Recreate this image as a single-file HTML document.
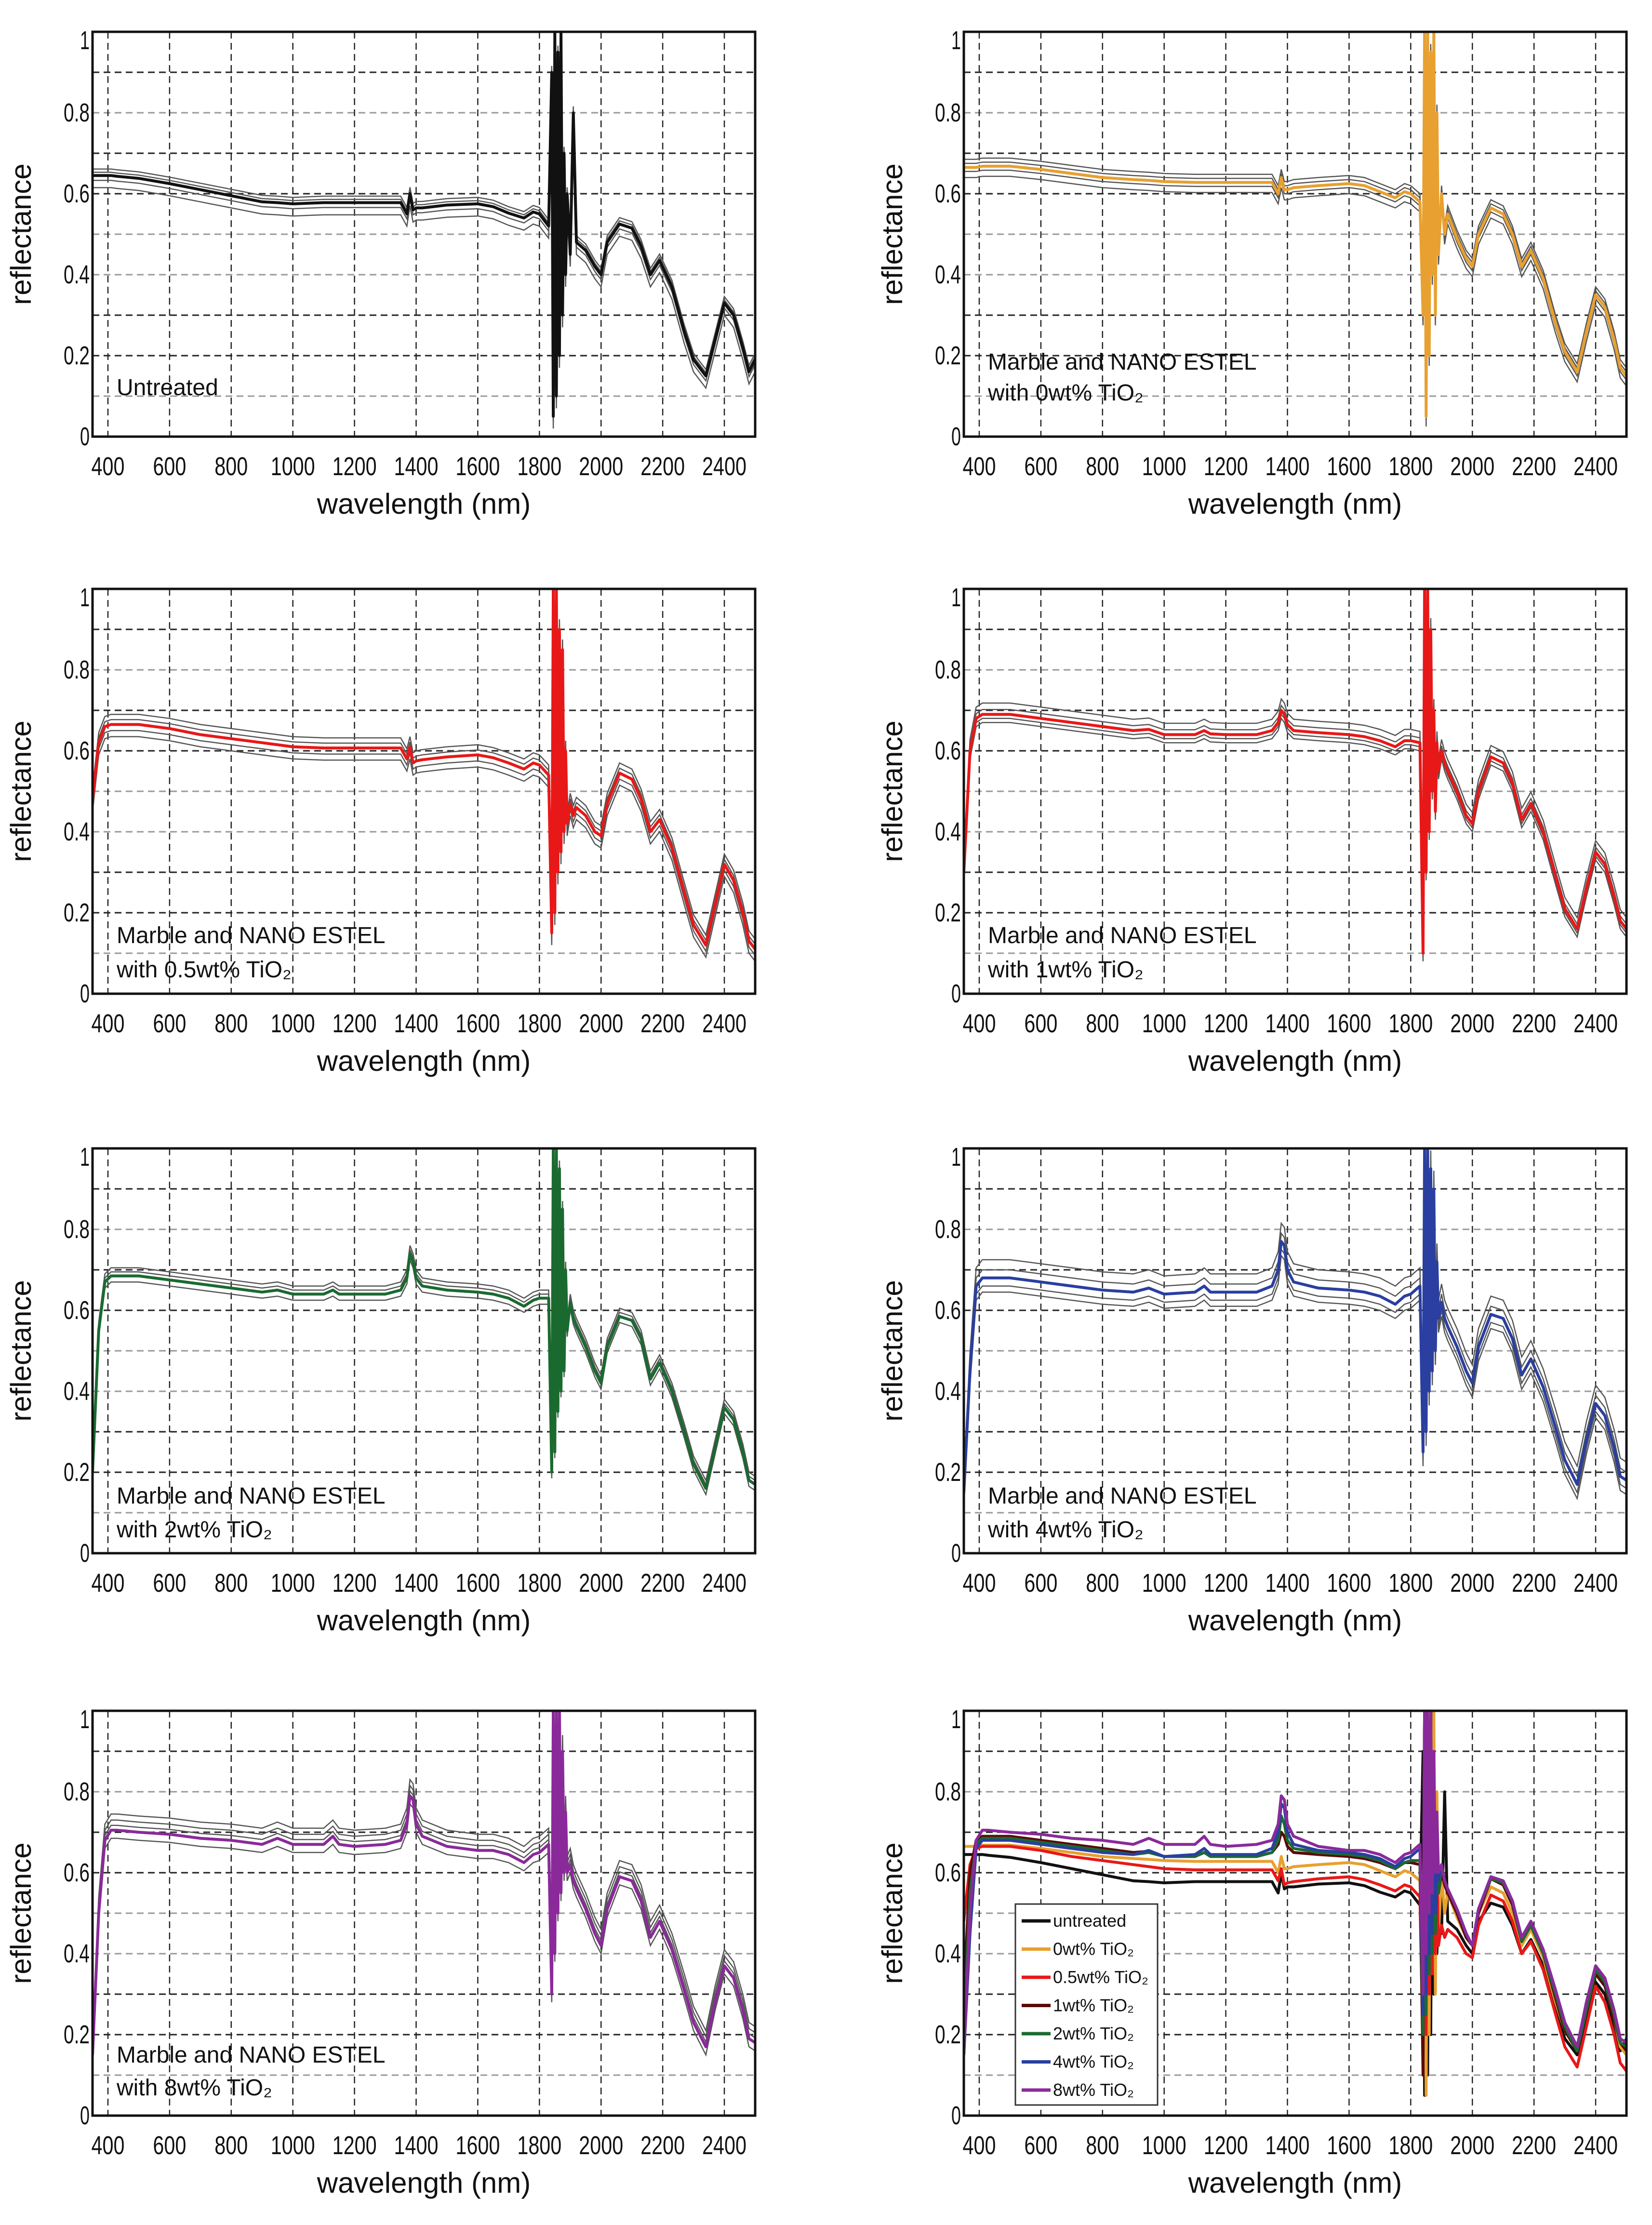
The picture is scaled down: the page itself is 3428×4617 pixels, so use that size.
<!DOCTYPE html>
<html><head><meta charset="utf-8">
<style>
html,body{margin:0;padding:0;background:#fff;}
svg{display:block;}
text{font-family:"Liberation Sans Narrow","Liberation Sans",sans-serif;fill:#111;}
.lab{font-family:"Liberation Sans",sans-serif;}
</style></head>
<body>
<svg id="fig" width="3428" height="4617" viewBox="0 0 3428 4617" xmlns="http://www.w3.org/2000/svg"></svg>
<script>
// ---- data ----
const wavelengths = [350,370,390,410,430,500,600,700,800,900,950,1000,1100,1130,1150,1200,1300,1350,1370,1380,1390,1400,1420,1500,1600,1650,1700,1750,1780,1800,1830,1840,1845,1850,1855,1860,1865,1870,1875,1880,1885,1890,1900,1910,1920,1950,1980,2000,2020,2060,2100,2130,2160,2190,2230,2270,2300,2340,2370,2400,2430,2460,2480,2500];
const untreated = [.645,.645,.645,.645,.643,.638,.625,.61,.595,.58,.578,.575,.578,.578,.578,.578,.578,.578,.55,.60,.56,.565,.565,.572,.575,.568,.552,.54,.555,.55,.52,.9,.05,1.0,.1,.95,.2,1.0,.3,.7,.4,.6,.45,.8,.48,.46,.42,.40,.48,.525,.515,.47,.40,.435,.37,.26,.19,.15,.24,.33,.30,.22,.16,.19];
const tio2_0 = [.665,.665,.665,.668,.668,.668,.66,.65,.64,.635,.633,.63,.628,.628,.628,.628,.628,.628,.60,.64,.61,.61,.615,.62,.625,.62,.605,.59,.605,.60,.58,.3,1.0,.05,1.0,.2,.95,.4,1.0,.3,.8,.45,.6,.50,.55,.49,.44,.42,.50,.565,.55,.50,.42,.46,.39,.28,.21,.16,.26,.35,.32,.24,.17,.15];
const tio2_05 = [.48,.62,.66,.665,.665,.665,.655,.64,.63,.62,.615,.61,.607,.607,.607,.607,.607,.607,.58,.61,.57,.575,.578,.585,.59,.583,.57,.555,.57,.565,.54,.15,1.0,.2,1.0,.3,.9,.35,.85,.4,.6,.42,.47,.44,.46,.44,.40,.39,.47,.545,.53,.48,.40,.43,.36,.25,.17,.12,.22,.32,.28,.20,.13,.11];
const tio2_1 = [.30,.60,.68,.69,.69,.69,.68,.67,.66,.65,.653,.64,.64,.65,.642,.64,.64,.65,.67,.70,.69,.665,.65,.645,.64,.635,.625,.61,.625,.625,.62,.1,1.0,.3,1.0,.4,.9,.5,.7,.45,.62,.55,.60,.57,.55,.50,.44,.42,.50,.585,.57,.52,.43,.47,.40,.29,.21,.16,.26,.35,.32,.24,.18,.16];
const tio2_2 = [.20,.55,.67,.685,.685,.685,.675,.665,.655,.645,.65,.64,.64,.65,.64,.64,.64,.65,.68,.74,.72,.68,.66,.65,.645,.64,.63,.61,.625,.63,.63,.2,1.0,.25,1.0,.35,.95,.4,.85,.45,.7,.55,.62,.58,.56,.51,.45,.42,.51,.585,.575,.53,.43,.47,.40,.30,.22,.16,.26,.36,.33,.25,.18,.17];
const tio2_4 = [.15,.45,.66,.68,.68,.68,.67,.66,.65,.645,.655,.64,.645,.66,.645,.645,.645,.66,.70,.77,.76,.70,.67,.655,.65,.645,.635,.615,.635,.64,.66,.25,1.0,.3,1.0,.4,.95,.45,.9,.5,.72,.58,.62,.58,.56,.51,.45,.42,.51,.59,.58,.53,.44,.48,.41,.31,.23,.17,.28,.37,.34,.26,.19,.18];
const tio2_8 = [.15,.50,.68,.705,.705,.70,.695,.685,.68,.67,.685,.67,.67,.69,.67,.665,.67,.68,.72,.79,.78,.72,.69,.665,.655,.655,.645,.625,.645,.65,.67,.3,1.0,.4,1.0,.5,1.0,.55,.9,.6,.75,.6,.62,.58,.56,.51,.45,.42,.51,.59,.58,.53,.44,.48,.41,.31,.23,.17,.28,.37,.34,.26,.19,.18];
const spreadUntreated = [-0.03,-0.012,0.008,0.016];
const spread0 = [-0.025,-0.01,0.01,0.02];
const spread05 = [-0.03,-0.015,0.012,0.025];
const spread1 = [-0.02,-0.01,0.012,0.028];
const spread2 = [-0.015,0.01,0.02];
const spread4 = [-0.035,-0.02,0.02,0.045];
const spread8 = [-0.02,0.012,0.025,0.04];
const yTicks = [0,0.2,0.4,0.6,0.8,1];
const yTickLabels = ["0","0.2","0.4","0.6","0.8","1"];
const xTicks = [400,600,800,1000,1200,1400,1600,1800,2000,2200,2400];
const legendLabels = ["untreated","0wt% TiO\u2082","0.5wt% TiO\u2082","1wt% TiO\u2082","2wt% TiO\u2082","4wt% TiO\u2082","8wt% TiO\u2082"];

// ---- layout ----
const NS="http://www.w3.org/2000/svg";
const svg=document.getElementById('fig');
function mk(tag,attrs,parent){const e=document.createElementNS(NS,tag);for(const k in attrs)e.setAttribute(k,attrs[k]);(parent||svg).appendChild(e);return e;}
const colX=[192,2000], rowY=[66,1222,2383,3550], PW=1375, PH=840;
const C={black:'#111',orange:'#e8a030',red:'#e81818',dred:'#5a0a0a',green:'#1a6a30',blue:'#2a3f9f',purple:'#8a2a9a'};
const panels=[
 {c:0,r:0,name:'untreated',label:['Untreated'],series:[[untreated,C.black,spreadUntreated]],ly:[737]},
 {c:1,r:0,name:'tio2-0',label:['Marble and NANO ESTEL','with 0wt% TiO\u2082'],series:[[tio2_0,C.orange,spread0]],ly:[684,748]},
 {c:0,r:1,name:'tio2-05',label:['Marble and NANO ESTEL','with 0.5wt% TiO\u2082'],series:[[tio2_05,C.red,spread05]],ly:[718,789]},
 {c:1,r:1,name:'tio2-1',label:['Marble and NANO ESTEL','with 1wt% TiO\u2082'],series:[[tio2_1,C.red,spread1]],ly:[718,789]},
 {c:0,r:2,name:'tio2-2',label:['Marble and NANO ESTEL','with 2wt% TiO\u2082'],series:[[tio2_2,C.green,spread2]],ly:[720,790]},
 {c:1,r:2,name:'tio2-4',label:['Marble and NANO ESTEL','with 4wt% TiO\u2082'],series:[[tio2_4,C.blue,spread4]],ly:[720,790]},
 {c:0,r:3,name:'tio2-8',label:['Marble and NANO ESTEL','with 8wt% TiO\u2082'],series:[[tio2_8,C.purple,spread8]],ly:[713,781]},
 {c:1,r:3,name:'comparison',label:[],series:[[untreated,C.black,[]],[tio2_0,C.orange,[]],[tio2_05,C.red,[]],[tio2_1,C.dred,[]],[tio2_2,C.green,[]],[tio2_4,C.blue,[]],[tio2_8,C.purple,[]]],ly:[],legend:true}
];

panels.forEach((p,pi)=>{
 const x0=colX[p.c], y0=rowY[p.r];
 const xs=v=>x0+(v-350)/(2500-350)*PW;
 const ys=v=>y0+PH-v*PH;
 const g=mk('g',{});
 
 
 const cp=mk('clipPath',{id:'cp'+pi},g);
 mk('rect',{x:x0,y:y0,width:PW,height:PH},cp);
 for(let k=1;k<10;k++){
  const dark=[9,7,6,3,2].includes(k);
  const l=mk('line',{x1:x0,x2:x0+PW,y1:ys(k/10),y2:ys(k/10),stroke:dark?'#222':'#999','stroke-width':3,'stroke-dasharray':'14 9'},g);
  
  
 }
 xTicks.forEach(t=>{
  const l=mk('line',{x1:xs(t),x2:xs(t),y1:y0,y2:y0+PH,stroke:'#222','stroke-width':2.5,'stroke-dasharray':'14 9'},g);
  
  
  const s=String(t);
  const tx=mk('text',{x:xs(t),y:y0+PH+80,'text-anchor':'middle','font-size':54,textLength:s.length*23,lengthAdjust:'spacingAndGlyphs'},g);
  tx.textContent=s;
  
  
 });
 yTicks.forEach((t,i)=>{
  const s=yTickLabels[i];
  const w=s.length===1?20:s.length*18;
  const tx=mk('text',{x:x0-6-w,y:ys(t)+(t===1?36:18),'font-size':54,textLength:w,lengthAdjust:'spacingAndGlyphs'},g);
  tx.textContent=s;
  
  
 });
 const sg=mk('g',{'clip-path':'url(#cp'+pi+')'},g);
 p.series.forEach(([vals,col,spr])=>{
  spr.forEach(o=>{
   const d=wavelengths.map((w,i)=>(i?'L':'M')+xs(w).toFixed(1)+','+ys(vals[i]+o).toFixed(1)).join('');
   const e=mk('path',{d:d,fill:'none',stroke:'#555','stroke-width':2.5},sg);
   
   
  });
 });
 p.series.forEach(([vals,col],si)=>{
  const d=wavelengths.map((w,i)=>(i?'L':'M')+xs(w).toFixed(1)+','+ys(vals[i]).toFixed(1)).join('');
  const e=mk('path',{d:d,fill:'none',stroke:col,'stroke-width':6,'stroke-linejoin':'round'},sg);
  
  
 });
 const fr=mk('rect',{x:x0,y:y0,width:PW,height:PH,fill:'none',stroke:'#111','stroke-width':5},g);
 
 
 const xl=mk('text',{x:x0+PW/2,y:y0+PH+160,'text-anchor':'middle','font-size':60,class:'lab'},g);
 xl.textContent='wavelength (nm)';
 
 
 const yx=x0-128, yy=y0+PH/2;
 const yl=mk('text',{x:yx,y:yy,'text-anchor':'middle','font-size':60,class:'lab',transform:'rotate(-90 '+yx+' '+yy+')'},g);
 yl.textContent='reflectance';
 
 
 p.label.forEach((s,i)=>{
  const t=mk('text',{x:x0+50,y:y0+p.ly[i]+17,'font-size':48,class:'lab'},g);
  t.textContent=s;
  
  
 });
 if(p.legend){
  const lg=mk('g',{},g);
  
  
  mk('rect',{x:2107,y:3951,width:295,height:417,fill:'#fff',stroke:'#333','stroke-width':3},lg);
  p.series.forEach(([v,col],i)=>{
   const yy2=3951+35+i*58.5;
   const ln=mk('line',{x1:2120,x2:2180,y1:yy2,y2:yy2,stroke:col,'stroke-width':7},lg);
   
   
   const t=mk('text',{x:2185,y:yy2+12,'font-size':36},lg);
   t.textContent=legendLabels[i];
   
   
  });
 }
});
</script>
</body></html>
